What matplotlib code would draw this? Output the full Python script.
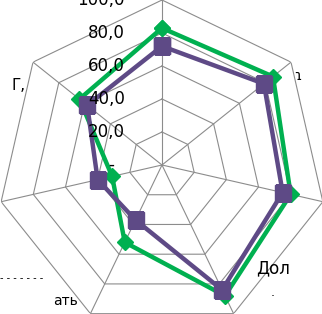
import numpy as np
import matplotlib
matplotlib.use("Agg")
import matplotlib.pyplot as plt

# Данные (7 осей, по часовой стрелке начиная сверху)
axes_idx = [0, 1, 2, 3, 4, 5, 6]
series_green = [83, 86, 80, 88, 52, 31, 64]
series_purple = [72, 79, 75, 84, 37, 40, 58]
ring_values = [0, 20, 40, 60, 80, 100]
ring_labels = ["-  ", "20,0", "40,0", "60,0", "80,0", "100,0"]

green = "#00B050"
purple = "#5E4A86"
grid_color = "#8C8C8C"

W, H = 322, 314
fig = plt.figure(figsize=(W / 100, H / 100), dpi=100)

# Центр диаграммы и радиус (в пикселях) - часть диаграммы обрезана краями
cx, cy, rad = 162, 165, 165
ax = fig.add_axes([(cx - rad) / W, (H - cy - rad) / H, 2 * rad / W, 2 * rad / H],
                  projection="polar")
ax.set_theta_offset(np.pi / 2)
ax.set_theta_direction(-1)
ax.set_ylim(0, 100)
ax.grid(False)
ax.set_xticks([])
ax.set_yticks([])
ax.spines["polar"].set_visible(False)
ax.set_facecolor("none")

n = len(axes_idx)
theta = 2 * np.pi * np.array(axes_idx) / n
theta_closed = np.append(theta, theta[0])

# Сетка: семиугольники и лучи
for v in ring_values[1:]:
    ax.plot(theta_closed, [v] * (n + 1), color=grid_color, lw=0.8, zorder=1)
for t in theta:
    ax.plot([t, t], [0, 100], color=grid_color, lw=0.8, zorder=1)

# Ряды
g = np.append(series_green, series_green[0])
p = np.append(series_purple, series_purple[0])
ax.plot(theta_closed, g, color=green, lw=3.2, marker="D", ms=8, zorder=3)
ax.plot(theta_closed, p, color=purple, lw=3.2, marker="s", ms=12, zorder=4)

# Подписи шкалы
for v, lab in zip(ring_values, ring_labels):
    ax.annotate(lab, xy=(0, v), xytext=(-37, 0), textcoords="offset pixels",
                ha="right", va="center", fontsize=12, color="black",
                annotation_clip=False, zorder=5)

# Обрезанные подписи категорий
fig.text(256 / W, 1 - 268 / H, "Дол", fontsize=12, ha="left", va="center")
fig.text(273 / W, 1 - 292 / H, ".", fontsize=9, ha="center", va="center")
fig.text(26 / W, 1 - 86 / H, "Г,", fontsize=11, ha="right", va="center")
fig.text(66 / W, 1 - 301 / H, "ать", fontsize=10, ha="center", va="center")
fig.text(298 / W, 1 - 76 / H, "ɿ", fontsize=10, ha="center", va="center")
fig.text(0, 1 - 278 / H, "- - - - - - -", fontsize=7, ha="left", va="center")

plt.savefig("out.png", dpi=100)
plt.close()
